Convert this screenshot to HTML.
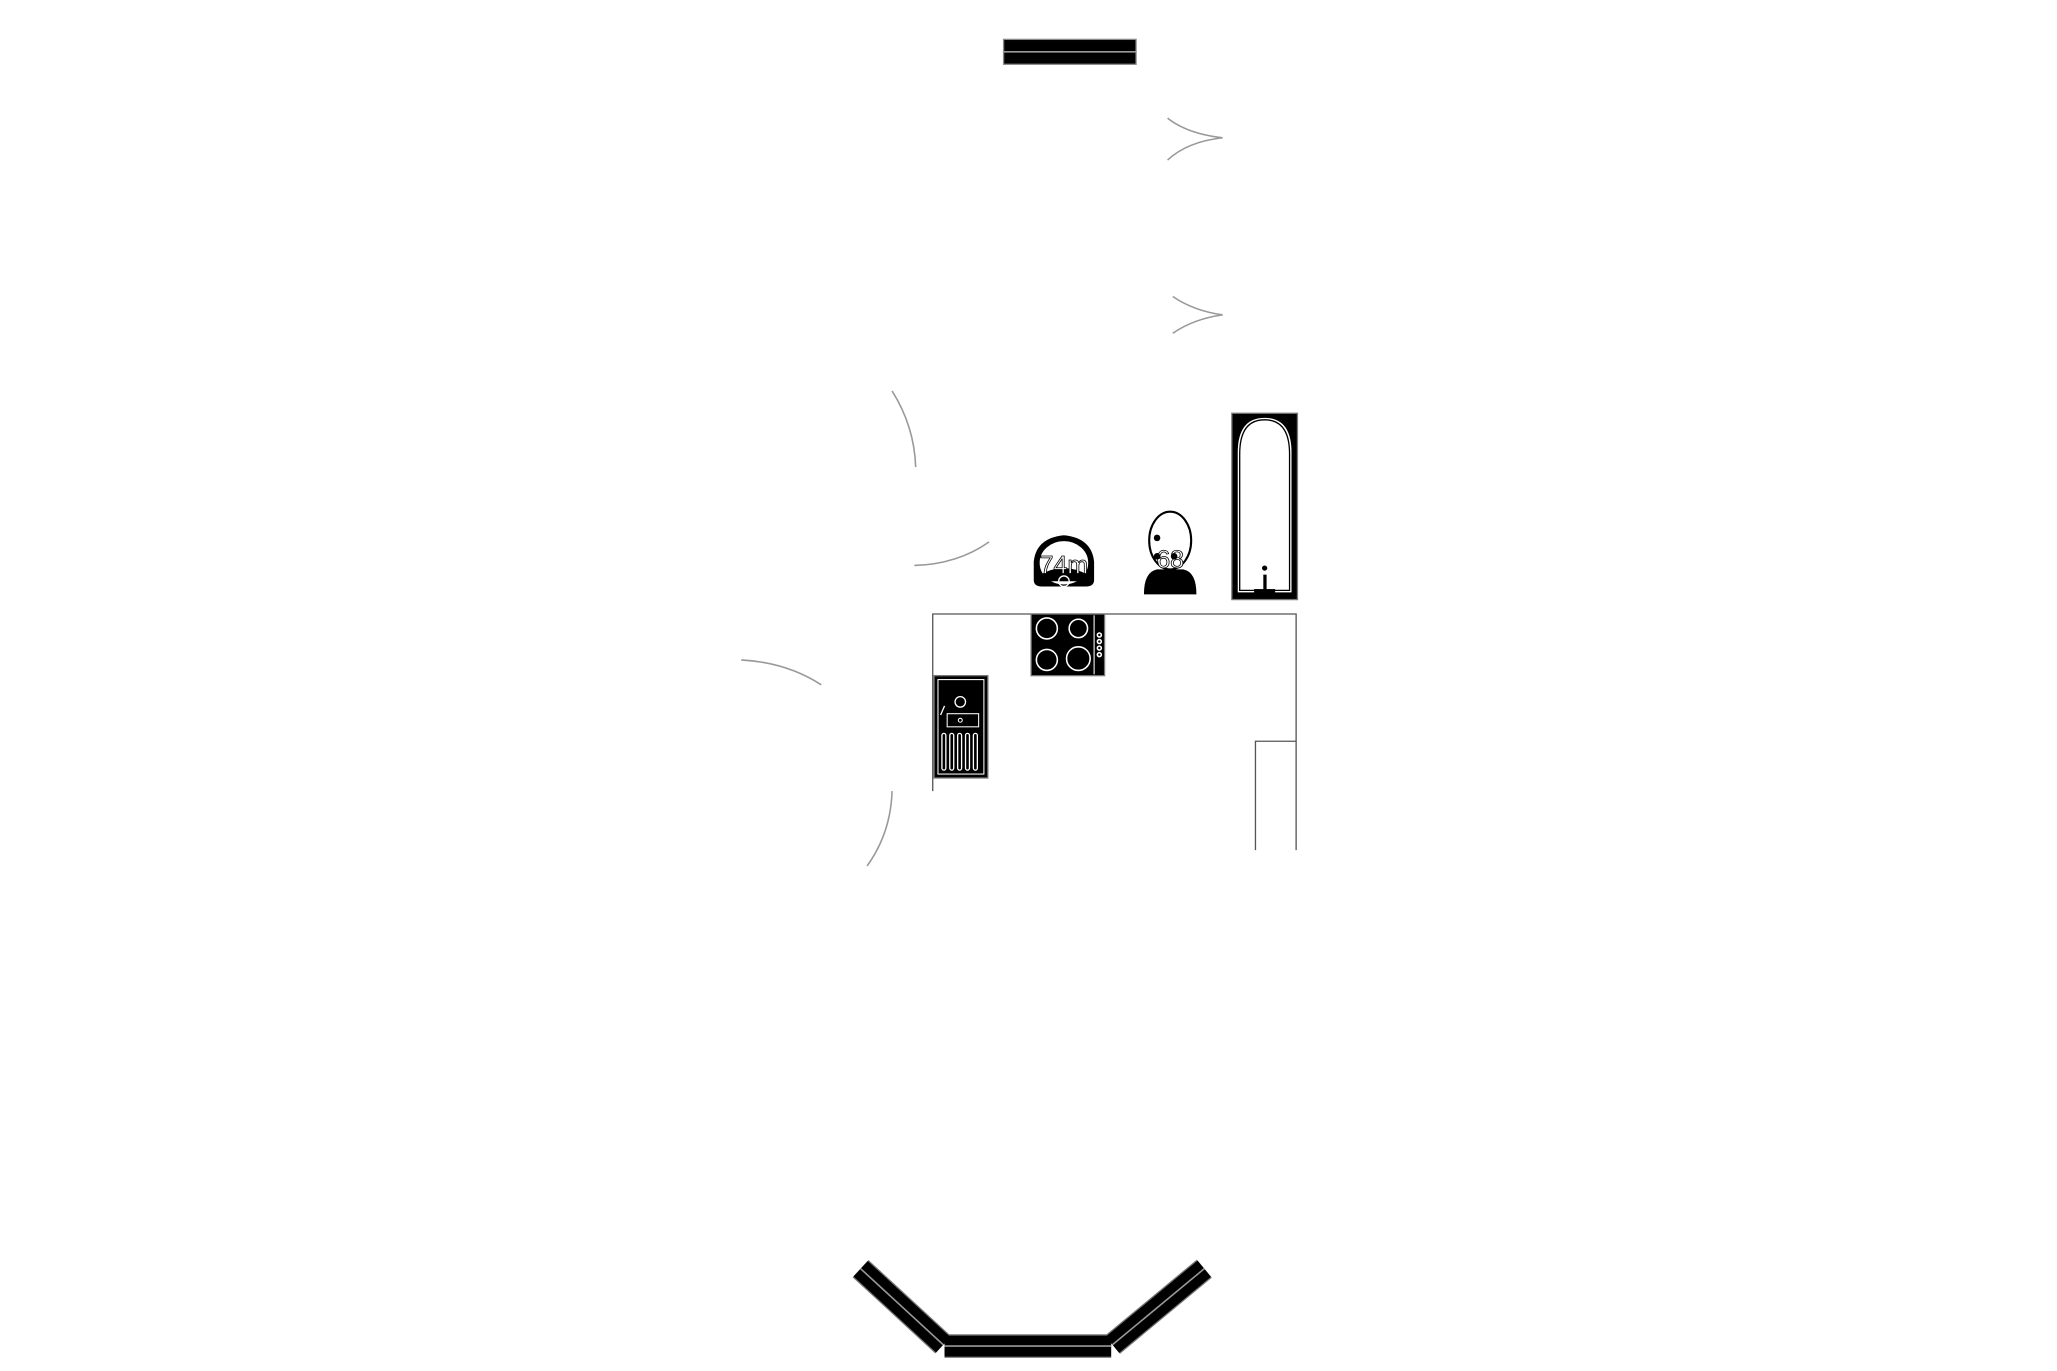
<!DOCTYPE html>
<html><head><meta charset="utf-8"><style>html,body{margin:0;padding:0;background:#fff}svg{display:block}</style></head>
<body>
<svg width="2057" height="1371" viewBox="0 0 1568 1045" preserveAspectRatio="none" xmlns="http://www.w3.org/2000/svg">
<rect width="1568" height="1045" fill="#fff"/>
<rect x="765" y="30" width="101" height="19" fill="#000" stroke="#888" stroke-width="1"/>
<line x1="765" y1="39.5" x2="866" y2="39.5" stroke="#999" stroke-width="1.2"/>
<g fill="none" stroke="#999" stroke-width="1.2">
<path d="M890 90 Q905 102 932 105 Q905 108 890 122"/>
<path d="M894 226 Q910 237 932 240 Q910 243 894 254"/>
<path d="M680 298 Q697 325 698 356"/>
<path d="M697 431 Q730 430 754 413"/>
<path d="M565 503 Q600 505 626 522"/>
<path d="M680 603 Q679 635 661 660"/>
</g>
<g fill="none" stroke="#555" stroke-width="1">
<path d="M711 603 L711 468 L988 468 L988 648"/>
<path d="M988 565 L957 565 L957 648"/>
</g>
<rect x="786" y="468" width="56" height="47" fill="#000" stroke="#777" stroke-width="1"/>
<line x1="834" y1="469" x2="834" y2="514" stroke="#fff" stroke-width="0.8"/>
<g fill="none" stroke="#fff" stroke-width="1.2">
<circle cx="798" cy="479" r="8"/><circle cx="822" cy="479" r="7"/>
<circle cx="798" cy="503" r="8"/><circle cx="822" cy="502" r="9"/>
<circle cx="838" cy="484" r="1.5"/><circle cx="838" cy="489" r="1.5"/><circle cx="838" cy="494" r="1.5"/><circle cx="838" cy="499" r="1.5"/>
</g>
<rect x="712" y="515" width="41" height="78" fill="#000" stroke="#777" stroke-width="1"/>
<rect x="715" y="518" width="35" height="72" fill="none" stroke="#fff" stroke-width="0.8"/>
<circle cx="732" cy="535" r="4" fill="none" stroke="#fff" stroke-width="1"/>
<rect x="722" y="544" width="24" height="10" fill="none" stroke="#fff" stroke-width="0.8"/>
<circle cx="732" cy="549" r="1.5" fill="none" stroke="#fff" stroke-width="0.8"/>
<path d="M720 538 L717 545" stroke="#fff" stroke-width="1"/>
<g fill="none" stroke="#fff" stroke-width="1">
<rect x="718" y="559" width="3" height="28" rx="1.5"/><rect x="724" y="559" width="3" height="28" rx="1.5"/>
<rect x="730" y="559" width="3" height="28" rx="1.5"/><rect x="736" y="559" width="3" height="28" rx="1.5"/>
<rect x="742" y="559" width="3" height="28" rx="1.5"/>
</g>
<path d="M788 428 Q790 410 811 408 Q832 410 834 428 L834 442 Q834 447 828 447 L794 447 Q788 447 788 442 Z" fill="#000"/>
<ellipse cx="811" cy="429" rx="19" ry="17" fill="#fff" stroke="#000" stroke-width="1"/>
<path d="M793 438 Q811 428 829 438 L829 443 L793 443 Z" fill="#000"/>
<text x="811" y="437" font-family="Liberation Sans, sans-serif" font-size="19" text-anchor="middle" fill="#fff" stroke="#000" stroke-width="0.6">74m</text>
<circle cx="811" cy="443" r="4" fill="none" stroke="#fff" stroke-width="1"/>
<path d="M872 453 Q872 436 882 434 L902 434 Q912 436 912 453 Z" fill="#000"/>
<ellipse cx="892" cy="412" rx="16" ry="22" fill="#fff" stroke="#000" stroke-width="1.6"/>
<text x="892" y="433" font-family="Liberation Sans, sans-serif" font-size="19" text-anchor="middle" fill="#fff" stroke="#000" stroke-width="0.6">68</text>
<circle cx="882" cy="410" r="2.5" fill="#000"/><circle cx="882" cy="424" r="2.5" fill="#000"/><circle cx="895" cy="424" r="2.5" fill="#000"/>
<rect x="939" y="315" width="50" height="142" fill="#000" stroke="#777" stroke-width="1"/>
<path d="M943 452 L943 345 Q943 318 964 318 Q985 318 985 345 L985 452 Z" fill="#fff" stroke="#000" stroke-width="1"/>
<path d="M945 450 L945 346 Q945 320 964 320 Q983 320 983 346 L983 450 Z" fill="none" stroke="#000" stroke-width="1"/>
<circle cx="964" cy="433" r="2" fill="#000"/>
<rect x="963" y="438" width="2.5" height="12" fill="#000"/>
<rect x="956" y="449" width="16" height="5" fill="#000"/>
<g fill="none" stroke-linecap="butt">
<g stroke="#777" stroke-width="18"><path d="M656 967 L719 1025"/><path d="M720 1026 L847 1026"/><path d="M848 1025 L918 967"/></g>
<g stroke="#000" stroke-width="16"><path d="M656 967 L719 1025"/><path d="M720 1026 L847 1026"/><path d="M848 1025 L918 967"/></g>
<g stroke="#999" stroke-width="1.2"><path d="M656 967 L719 1025"/><path d="M720 1026 L847 1026"/><path d="M848 1025 L918 967"/></g>
</g>
</svg>
</body></html>
